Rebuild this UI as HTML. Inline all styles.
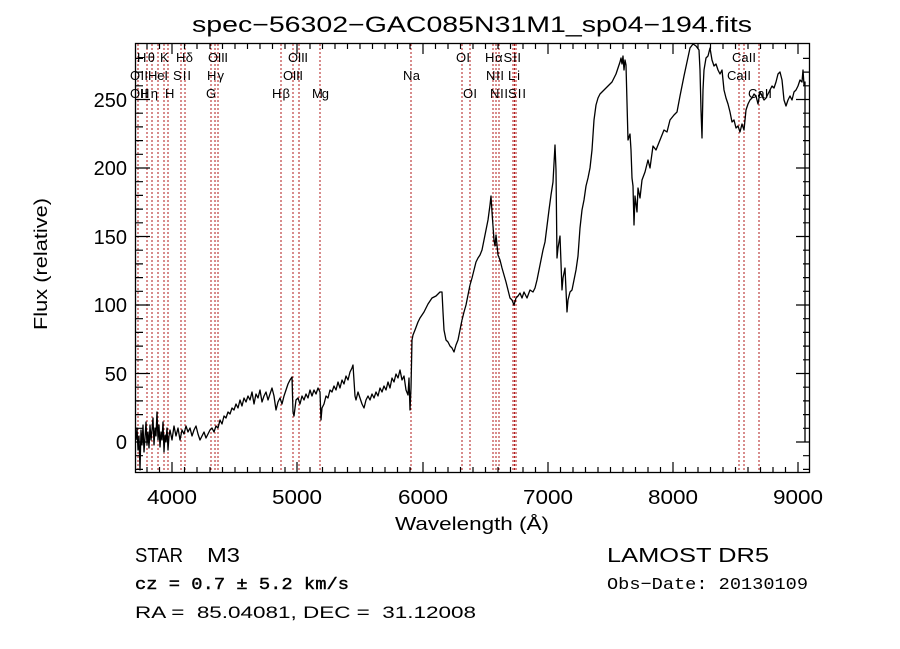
<!DOCTYPE html>
<html><head><meta charset="utf-8"><style>
html,body{margin:0;padding:0;background:#fff;}
svg{display:block;font-family:"Liberation Sans","DejaVu Sans",sans-serif;}
</style></head><body>
<svg width="900" height="649" viewBox="0 0 900 649" xmlns="http://www.w3.org/2000/svg">
<rect width="900" height="649" fill="#fff"/>
<text x="192" y="32" font-size="22" textLength="560" lengthAdjust="spacingAndGlyphs" fill="#000">spec−56302−GAC085N31M1_sp04−194.fits</text>
<g stroke="#b01818" stroke-width="1" stroke-dasharray="2,2">
<line x1="138" y1="44" x2="138" y2="472"/><line x1="147" y1="44" x2="147" y2="472"/>
<line x1="152" y1="44" x2="152" y2="472"/><line x1="158" y1="44" x2="158" y2="472"/>
<line x1="164" y1="44" x2="164" y2="472"/><line x1="168" y1="44" x2="168" y2="472"/>
<line x1="181" y1="44" x2="181" y2="472"/><line x1="185" y1="44" x2="185" y2="472"/>
<line x1="211" y1="44" x2="211" y2="472"/><line x1="215" y1="44" x2="215" y2="472"/>
<line x1="218" y1="44" x2="218" y2="472"/><line x1="281" y1="44" x2="281" y2="472"/>
<line x1="293" y1="44" x2="293" y2="472"/><line x1="299" y1="44" x2="299" y2="472"/>
<line x1="320" y1="44" x2="320" y2="472"/><line x1="411" y1="44" x2="411" y2="472"/>
<line x1="462" y1="44" x2="462" y2="472"/><line x1="470" y1="44" x2="470" y2="472"/>
<line x1="493" y1="44" x2="493" y2="472"/><line x1="496" y1="44" x2="496" y2="472"/>
<line x1="499" y1="44" x2="499" y2="472"/><line x1="513" y1="44" x2="513" y2="472"/>
<line x1="514.5" y1="44" x2="514.5" y2="472"/><line x1="516" y1="44" x2="516" y2="472"/>
<line x1="739" y1="44" x2="739" y2="472"/><line x1="744" y1="44" x2="744" y2="472"/>
<line x1="759" y1="44" x2="759" y2="472"/>
</g>
<g font-size="13" fill="#000">
<text x="137" y="62" textLength="18">Hθ</text><text x="160" y="62">K</text><text x="176" y="62" textLength="17">Hδ</text>
<text x="208" y="62" textLength="20">OIII</text><text x="288" y="62" textLength="20">OIII</text><text x="456" y="62" textLength="14">OI</text>
<text x="485" y="62" textLength="36">HαSII</text><text x="732" y="62" textLength="24">CaII</text>
<text x="130" y="80" textLength="18">OII</text><text x="148" y="80" textLength="20">HeI</text><text x="173" y="80" textLength="18">SII</text>
<text x="207" y="80" textLength="17">Hγ</text><text x="283" y="80" textLength="20">OIII</text><text x="403" y="80" textLength="17">Na</text>
<text x="486" y="80" textLength="18">NII</text><text x="508" y="80" textLength="12">Li</text><text x="727" y="80" textLength="24">CaII</text>
<text x="130" y="98" textLength="18">OII</text><text x="140" y="98" textLength="18">Hη</text><text x="165" y="98">H</text>
<text x="206" y="98">G</text><text x="272" y="98" textLength="18">Hβ</text><text x="312" y="98" textLength="17">Mg</text>
<text x="463" y="98" textLength="14">OI</text><text x="490" y="98" textLength="18">NII</text><text x="508" y="98" textLength="18">SII</text>
<text x="748" y="98" textLength="24">CaII</text>
</g>
<polyline fill="none" stroke="#000" stroke-width="1.3" stroke-linejoin="round" points="
136,440 137,428 138,450 139,436 140,470 141,430 142,445 143,425 144,452 145,438 146,422 147,445 148,432 149,448 150,425 151,440 152,430 153,418 154,445 155,428 156,436 157,412 158,440 159,425 160,447 161,432 162,440 163,422 164,452 165,435 166,442 167,428 168,450 169,436 170,430 172,440 174,426 176,436 178,428 180,440 182,430 184,434 186,426 188,432 190,428 192,436 194,430 196,426 198,434 200,440 202,436 204,432 206,438 208,434 210,430 212,428 214,432 216,426 218,428 220,420 222,424 224,416 226,418 228,412 230,414 232,408 234,410 236,404 238,408 240,400 242,406 244,398 246,402 248,396 250,400 252,392 254,404 256,394 258,398 260,390 262,402 264,396 266,392 268,400 270,394 272,388 274,396 276,410 278,402 280,398 282,404 284,396 286,390 288,384 290,380 292,377 293,412 294,416 296,400 298,398 300,404 302,396 304,400 306,394 308,398 310,390 312,396 314,390 316,394 318,388 320,392 321,420 322,408 324,404 326,396 328,398 330,390 332,392 334,386 336,390 338,382 340,388 342,380 344,384 346,376 348,380 350,372 352,368 353,365 355,396 356,400 358,392 360,398 362,404 364,408 366,400 368,396 370,400 372,394 374,398 376,392 378,396 380,388 382,392 384,386 386,390 388,382 390,388 392,378 394,382 396,374 398,378 400,370 402,380 404,376 406,390 408,395 409,378 410,410 411,388 412,340 413,335 415,330 418,322 420,318 424,312 428,304 432,298 436,296 440,292 442,292 443,312 444,330 446,340 448,342 450,346 452,348 454,352 456,345 458,340 460,330 462,320 464,312 466,305 468,295 470,285 472,278 474,270 476,262 478,258 480,255 482,250 484,240 486,230 488,220 490,205 491,196 492,212 494,240 495,246 496,235 498,255 500,260 502,268 504,275 506,282 508,290 510,298 512,300 514,305 516,298 518,296 520,293 522,298 524,292 527,298 530,290 533,292 535,288 537,280 539,270 541,260 543,250 545,242 547,226 549,210 551,195 553,182 555,145 556,170 557,258 558,248 560,236 562,290 563,278 565,268 567,312 568,300 570,292 572,290 574,280 576,270 578,256 580,228 582,210 584,200 586,186 588,178 590,168 592,150 594,120 596,105 598,98 600,94 604,90 608,86 612,82 614,78 616,74 618,68 620,62 621,58 622,64 623,56 624,70 625,60 626,65 628,140 630,134 631,150 632,178 633,186 634,225 635,196 637,212 638,188 640,198 642,180 645,172 648,160 650,168 653,146 656,150 660,140 664,130 667,132 670,120 674,115 677,112 680,96 684,76 687,62 690,48 693,44 696,46 699,50 700,70 701,110 702,138 703,90 704,70 706,58 708,56 710,48 712,60 714,66 716,64 718,70 720,74 722,70 724,90 726,98 728,104 730,112 732,122 734,120 736,128 738,126 740,132 742,124 744,130 746,110 748,104 750,100 752,98 754,94 756,96 758,104 760,92 762,96 764,100 766,98 768,94 770,90 772,86 774,88 776,82 778,74 780,72 782,80 784,100 786,106 788,100 790,96 792,100 794,92 796,90 798,86 800,80 802,82 803,70 804,85 805,82 805,322 805,442"/>
<rect x="135.5" y="43.5" width="674" height="429" fill="none" stroke="#000" stroke-width="1.3"/>
<g stroke="#000" stroke-width="1.2">
<path d="M172,472v-10M297,472v-10M423,472v-10M548,472v-10M673,472v-10M798,472v-10M172,44v10M297,44v10M423,44v10M548,44v10M673,44v10M798,44v10"/>
<path d="M147,472v-5M159.5,472v-5M184.5,472v-5M197,472v-5M210,472v-5M222.5,472v-5M235,472v-5M247.5,472v-5M260,472v-5M272.5,472v-5M285,472v-5M310,472v-5M322.5,472v-5M335,472v-5M347.5,472v-5M360,472v-5M372.5,472v-5M385,472v-5M397.5,472v-5M410,472v-5M435.5,472v-5M448,472v-5M460.5,472v-5M473,472v-5M485.5,472v-5M498,472v-5M510.5,472v-5M523,472v-5M535.5,472v-5M560.5,472v-5M573,472v-5M585.5,472v-5M598,472v-5M610.5,472v-5M623,472v-5M635.5,472v-5M648,472v-5M660.5,472v-5M685.5,472v-5M698,472v-5M710.5,472v-5M723,472v-5M735.5,472v-5M748,472v-5M760.5,472v-5M773,472v-5M785.5,472v-5"/>
<path d="M147,44v5M159.5,44v5M184.5,44v5M197,44v5M210,44v5M222.5,44v5M235,44v5M247.5,44v5M260,44v5M272.5,44v5M285,44v5M310,44v5M322.5,44v5M335,44v5M347.5,44v5M360,44v5M372.5,44v5M385,44v5M397.5,44v5M410,44v5M435.5,44v5M448,44v5M460.5,44v5M473,44v5M485.5,44v5M498,44v5M510.5,44v5M523,44v5M535.5,44v5M560.5,44v5M573,44v5M585.5,44v5M598,44v5M610.5,44v5M623,44v5M635.5,44v5M648,44v5M660.5,44v5M685.5,44v5M698,44v5M710.5,44v5M723,44v5M735.5,44v5M748,44v5M760.5,44v5M773,44v5M785.5,44v5"/>
<path d="M136,442h14M136,373.5h14M136,305h14M136,236.5h14M136,168h14M136,99.5h14M810,442h-14M810,373.5h-14M810,305h-14M810,236.5h-14M810,168h-14M810,99.5h-14"/>
<path d="M136,469.4h7M136,455.7h7M136,428.3h7M136,414.6h7M136,400.9h7M136,387.2h7M136,359.8h7M136,346.1h7M136,332.4h7M136,318.7h7M136,291.3h7M136,277.6h7M136,263.9h7M136,250.2h7M136,222.8h7M136,209.1h7M136,195.4h7M136,181.7h7M136,154.3h7M136,140.6h7M136,126.9h7M136,113.2h7M136,85.8h7M136,72.1h7M136,58.4h7"/>
<path d="M810,469.4h-7M810,455.7h-7M810,428.3h-7M810,414.6h-7M810,400.9h-7M810,387.2h-7M810,359.8h-7M810,346.1h-7M810,332.4h-7M810,318.7h-7M810,291.3h-7M810,277.6h-7M810,263.9h-7M810,250.2h-7M810,222.8h-7M810,209.1h-7M810,195.4h-7M810,181.7h-7M810,154.3h-7M810,140.6h-7M810,126.9h-7M810,113.2h-7M810,85.8h-7M810,72.1h-7M810,58.4h-7"/>
</g>
<g font-size="20" fill="#000">
<text x="147" y="504" textLength="50" lengthAdjust="spacingAndGlyphs">4000</text><text x="272" y="504" textLength="50" lengthAdjust="spacingAndGlyphs">5000</text><text x="398" y="504" textLength="50" lengthAdjust="spacingAndGlyphs">6000</text>
<text x="523" y="504" textLength="50" lengthAdjust="spacingAndGlyphs">7000</text><text x="648" y="504" textLength="50" lengthAdjust="spacingAndGlyphs">8000</text><text x="773" y="504" textLength="50" lengthAdjust="spacingAndGlyphs">9000</text>
<g text-anchor="end">
<text x="127" y="449">0</text><text x="127" y="381">50</text><text x="127" y="312">100</text>
<text x="127" y="244">150</text><text x="127" y="175">200</text><text x="127" y="107">250</text>
</g>
<text x="395" y="530" font-size="18" textLength="154" lengthAdjust="spacingAndGlyphs">Wavelength (Å)</text>
<text transform="translate(47,330) rotate(-90)" font-size="18" textLength="132" lengthAdjust="spacingAndGlyphs">Flux (relative)</text>
</g>
<g fill="#000">
<text x="135" y="562" font-size="20" textLength="48" lengthAdjust="spacingAndGlyphs">STAR</text><text x="207" y="562" font-size="20" textLength="33" lengthAdjust="spacingAndGlyphs">M3</text>
<text x="607" y="562" font-size="20" textLength="162" lengthAdjust="spacingAndGlyphs">LAMOST DR5</text>
<text x="135" y="589" font-size="17" font-family="Liberation Mono, monospace" stroke="#000" stroke-width="0.4" textLength="214" lengthAdjust="spacingAndGlyphs">cz = 0.7 ± 5.2 km/s</text>
<text x="607" y="589" font-size="17" font-family="Liberation Mono, monospace" textLength="201" lengthAdjust="spacingAndGlyphs">Obs−Date: 20130109</text>
<text x="135" y="618" font-size="17" textLength="341" lengthAdjust="spacingAndGlyphs" xml:space="preserve">RA =  85.04081, DEC =  31.12008</text>
</g>
</svg>
</body></html>
